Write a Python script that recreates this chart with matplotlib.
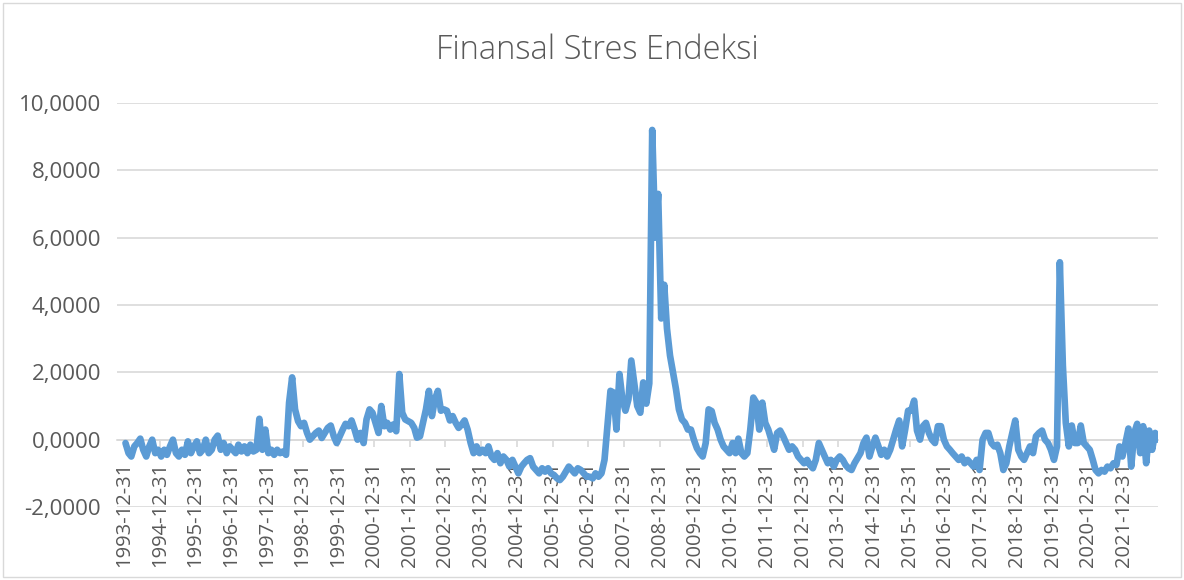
import matplotlib.pyplot as plt
import pandas as pd
import numpy as np
from matplotlib.patches import Rectangle

plt.rcParams['font.family'] = ['Open Sans', 'DejaVu Sans']

# monthly readings of the stress index, one list per year
y1994 = [-0.1, -0.4, -0.5, -0.2, -0.1, 0.03, -0.3, -0.5, -0.2, 0.0, -0.4, -0.3]
y1995 = [-0.5, -0.3, -0.45, -0.2, 0.0, -0.4, -0.5, -0.3, -0.45, -0.05, -0.4, -0.2]
y1996 = [-0.05, -0.4, -0.3, 0.0, -0.4, -0.3, 0.0, 0.12, -0.3, -0.1, -0.4, -0.2]
y1997 = [-0.3, -0.4, -0.15, -0.35, -0.2, -0.4, -0.15, -0.35, -0.3, 0.62, -0.3, 0.3]
y1998 = [-0.4, -0.3, -0.45, -0.3, -0.4, -0.35, -0.45, 1.1, 1.85, 0.9, 0.55, 0.4]
y1999 = [0.5, 0.2, 0.0, 0.1, 0.2, 0.27, 0.05, 0.2, 0.35, 0.42, 0.1, -0.1]
y2000 = [0.1, 0.3, 0.47, 0.4, 0.57, 0.3, 0.0, 0.2, -0.1, 0.6, 0.9, 0.8]
y2001 = [0.5, 0.2, 1.0, 0.4, 0.5, 0.3, 0.45, 0.25, 1.95, 0.8, 0.6, 0.55]
y2002 = [0.5, 0.35, 0.06, 0.1, 0.5, 0.9, 1.45, 0.7, 1.2, 1.45, 0.86, 0.9]
y2003 = [0.86, 0.57, 0.7, 0.5, 0.35, 0.45, 0.57, 0.3, -0.1, -0.4, -0.2, -0.4]
y2004 = [-0.3, -0.4, -0.2, -0.5, -0.6, -0.4, -0.7, -0.5, -0.6, -0.8, -0.6, -0.8]
y2005 = [-1.0, -0.8, -0.7, -0.6, -0.55, -0.8, -0.9, -1.0, -0.85, -0.95, -0.85, -1.0]
y2006 = [-1.05, -1.15, -1.2, -1.1, -0.95, -0.8, -0.9, -1.0, -0.85, -0.9, -1.0, -1.1]
y2007 = [-1.1, -1.15, -1.0, -1.1, -1.0, -0.6, 0.4, 1.45, 1.4, 0.3, 1.95, 1.2]
y2008 = [0.86, 1.2, 2.35, 1.67, 1.0, 0.8, 1.7, 1.07, 1.67, 9.2, 6.0, 7.3]
y2009 = [3.6, 4.6, 3.3, 2.5, 2.0, 1.5, 0.9, 0.6, 0.5, 0.3, 0.3, 0.0]
y2010 = [-0.25, -0.4, -0.5, -0.1, 0.9, 0.85, 0.5, 0.3, 0.0, -0.2, -0.3, -0.4]
y2011 = [-0.1, -0.4, 0.03, -0.4, -0.5, -0.4, 0.3, 1.25, 1.1, 0.3, 1.1, 0.5]
y2012 = [0.3, 0.0, -0.3, 0.2, 0.27, 0.1, -0.1, -0.3, -0.2, -0.3, -0.5, -0.6]
y2013 = [-0.7, -0.6, -0.75, -0.85, -0.6, -0.1, -0.3, -0.5, -0.7, -0.6, -0.8, -0.6]
y2014 = [-0.5, -0.6, -0.75, -0.85, -0.9, -0.7, -0.55, -0.4, -0.1, 0.06, -0.5, -0.2]
y2015 = [0.06, -0.2, -0.45, -0.3, -0.5, -0.3, 0.0, 0.3, 0.57, -0.2, 0.3, 0.86]
y2016 = [0.86, 1.16, 0.27, 0.0, 0.4, 0.5, 0.2, 0.0, -0.1, 0.4, 0.4, 0.0]
y2017 = [-0.2, -0.3, -0.4, -0.5, -0.6, -0.5, -0.7, -0.6, -0.7, -0.8, -0.6, -0.9]
y2018 = [0.0, 0.2, 0.2, -0.1, -0.2, -0.15, -0.4, -0.9, -0.7, -0.2, 0.2, 0.57]
y2019 = [-0.3, -0.5, -0.6, -0.4, -0.2, -0.4, 0.1, 0.2, 0.27, 0.0, -0.1, -0.3]
y2020 = [-0.6, -0.2, 5.27, 2.2, 0.5, -0.2, 0.42, -0.1, -0.1, 0.42, -0.1, -0.2]
y2021 = [-0.3, -0.6, -0.9, -1.0, -0.9, -0.95, -0.8, -0.85, -0.7, -0.75, -0.2, -0.5]
y2022 = [-0.1, 0.33, -0.8, 0.2, 0.47, -0.4, 0.4, -0.7, 0.27, -0.3, 0.2, 0.0]

fsi = (y1994 + y1995 + y1996 + y1997 + y1998 + y1999 + y2000 + y2001 + y2002
       + y2003 + y2004 + y2005 + y2006 + y2007 + y2008 + y2009 + y2010 + y2011
       + y2012 + y2013 + y2014 + y2015 + y2016 + y2017 + y2018 + y2019 + y2020
       + y2021 + y2022)
dates = pd.date_range('1994-01-01', periods=len(fsi), freq='MS') + pd.Timedelta(days=14)

tick_years = list(range(1993, 2022))
tick_dates = [pd.Timestamp(f'{y}-12-31') for y in tick_years]
tick_labels = [f'{y}-12-31' for y in tick_years]

TEXT = '#595959'
GRID = '#D9D9D9'

fig = plt.figure(figsize=(11.84, 5.80), dpi=100)
ax = fig.add_axes([117/1184, 73/580, 1041/1184, 404/580])

ax.plot(dates, fsi, color='#5B9BD5', lw=4.8, solid_joinstyle='round',
        solid_capstyle='round', zorder=3)

ax.set_ylim(-2, 10)
yt = np.arange(-2, 11, 2)
ax.set_yticks(yt)
ax.set_yticklabels([f'{v:.4f}'.replace('.', ',') for v in yt])
ax.grid(axis='y', color=GRID, lw=1.2)
ax.set_axisbelow(True)

ax.set_xlim(pd.Timestamp('1993-10-20'), pd.Timestamp('2022-12-14'))
ax.set_xticks(tick_dates)
ax.set_xticklabels(tick_labels)

for s in ['top', 'right', 'left']:
    ax.spines[s].set_visible(False)
ax.spines['bottom'].set_position(('data', 0))
ax.spines['bottom'].set_color(GRID)
ax.spines['bottom'].set_linewidth(1.2)

ax.tick_params(axis='y', length=0, pad=11.5, labelsize=16, labelcolor=TEXT)
ax.tick_params(axis='x', length=5, width=1.2, color=GRID, direction='out',
               pad=11, labelsize=14.5, labelcolor=TEXT, labelrotation=90)

fig.text(597/1184, 1 - 50/580, 'Finansal Stres Endeksi', ha='center', va='center',
         fontsize=23.5, color=TEXT, fontweight='light')

fig.patches.append(Rectangle((3/1184, 3/580), 1178/1184, 574/580,
                             transform=fig.transFigure, fill=False,
                             ec=GRID, lw=1))

fig.savefig('out.png', dpi=100)
